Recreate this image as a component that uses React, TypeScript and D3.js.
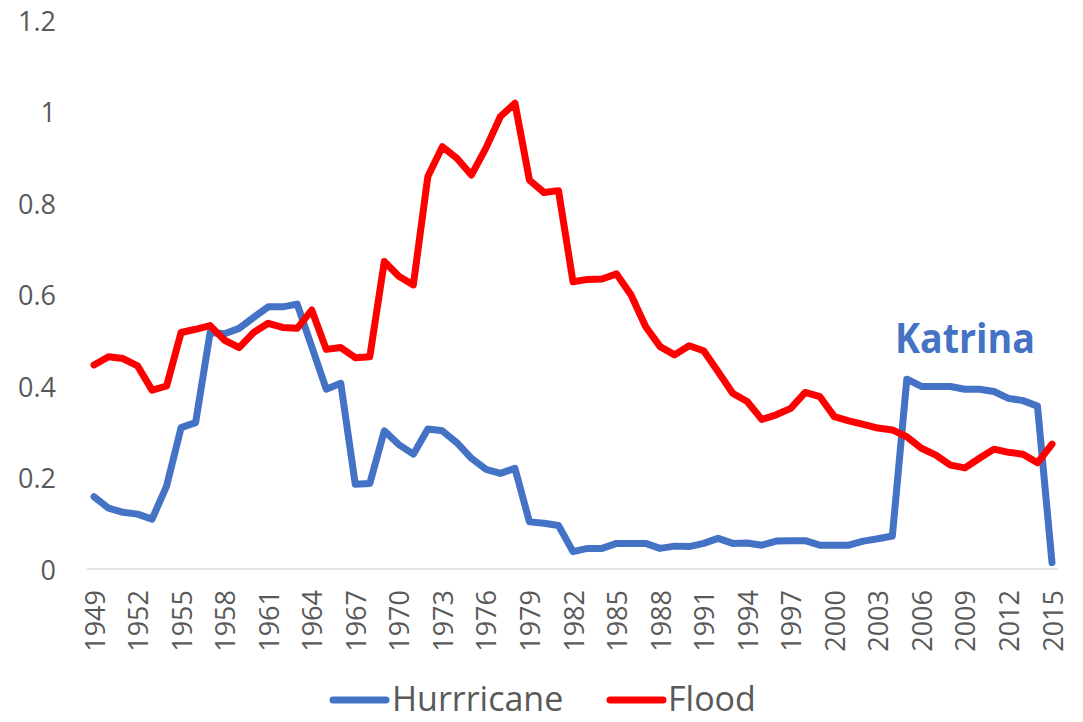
import React from "react";
import * as d3 from "d3";

const years: number[] = d3.range(1949, 2016);

const hurricane: number[] = [
  0.158, 0.133, 0.124, 0.12, 0.109, 0.181, 0.309, 0.32, 0.517, 0.514,
  0.526, 0.55, 0.573, 0.573, 0.579, 0.486, 0.393, 0.406, 0.185, 0.187,
  0.302, 0.272, 0.251, 0.306, 0.302, 0.276, 0.242, 0.218, 0.209, 0.22,
  0.103, 0.1, 0.095, 0.038, 0.045, 0.045, 0.056, 0.056, 0.056, 0.045,
  0.05, 0.049, 0.056, 0.067, 0.056, 0.057, 0.052, 0.061, 0.062, 0.062,
  0.052, 0.052, 0.052, 0.061, 0.066, 0.072, 0.415, 0.399, 0.399, 0.399,
  0.393, 0.393, 0.388, 0.373, 0.368, 0.356, 0.014,
];

const flood: number[] = [
  0.446, 0.464, 0.46, 0.444, 0.391, 0.4, 0.517, 0.524, 0.532, 0.5,
  0.484, 0.517, 0.537, 0.528, 0.526, 0.566, 0.48, 0.484, 0.462, 0.464,
  0.672, 0.64, 0.621, 0.858, 0.923, 0.898, 0.861, 0.92, 0.989, 1.018,
  0.85, 0.823, 0.827, 0.628, 0.633, 0.634, 0.645, 0.599, 0.53, 0.486,
  0.468, 0.488, 0.477, 0.431, 0.384, 0.366, 0.327, 0.337, 0.351, 0.386,
  0.377, 0.333, 0.324, 0.316, 0.308, 0.304, 0.289, 0.264, 0.249, 0.227,
  0.221, 0.242, 0.262, 0.255, 0.251, 0.232, 0.273,
];

const yTicks: number[] = [0, 0.2, 0.4, 0.6, 0.8, 1, 1.2];
const xTickYears: number[] = d3.range(1949, 2016, 3);

const seriesNames: string[] = ["Hurrricane", "Flood"];
const seriesColors: string[] = ["#4472C4", "#FF0000"];
const annotation = "Katrina";

export default function App() {
  const W = 1083;
  const H = 722;
  const x = d3.scaleLinear().domain([1949, 2015]).range([94, 1052]);
  const y = d3.scaleLinear().domain([0, 1.2]).range([569, 20]);
  const line = d3
    .line<number>()
    .x((_, i) => x(years[i]))
    .y((d) => y(d));
  const series = [hurricane, flood];
  const font = "'Open Sans', sans-serif";
  const gray = "#595959";

  return (
    <svg
      width={W}
      height={H}
      style={{ position: "absolute", left: 0, top: 0, background: "#fff" }}
      fontFamily={font}
    >
      <rect width={W} height={H} fill="#fff" />
      {/* baseline */}
      <line x1={87} x2={1058} y1={y(0)} y2={y(0)} stroke="#D9D9D9" strokeWidth={1.5} />
      {/* y tick labels */}
      {yTicks.map((t) => (
        <text
          key={t}
          x={56}
          y={y(t)}
          textAnchor="end"
          dominantBaseline="central"
          fontSize={27}
          fill={gray}
        >
          {d3.format("~g")(t)}
        </text>
      ))}
      {/* x tick labels */}
      {xTickYears.map((yr) => (
        <text
          key={yr}
          transform={`translate(${x(yr)},590) rotate(-90)`}
          textAnchor="end"
          dominantBaseline="central"
          fontSize={27}
          fill={gray}
        >
          {yr}
        </text>
      ))}
      {/* lines */}
      {series.map((s, i) => (
        <path
          key={i}
          d={line(s) || ""}
          fill="none"
          stroke={seriesColors[i]}
          strokeWidth={7}
          strokeLinejoin="round"
          strokeLinecap="round"
        />
      ))}
      {/* annotation */}
      <text
        x={895}
        y={353}
        fontSize={42}
        fontWeight="bold"
        fill={seriesColors[0]}
        textLength={140}
        lengthAdjust="spacingAndGlyphs"
      >
        {annotation}
      </text>
      {/* legend */}
      {[
        { x0: 333, tx: 392 },
        { x0: 610, tx: 668 },
      ].map((p, i) => (
        <g key={i}>
          <line
            x1={p.x0}
            x2={p.x0 + 53}
            y1={700}
            y2={700}
            stroke={seriesColors[i]}
            strokeWidth={7}
            strokeLinecap="round"
          />
          <text x={p.tx} y={711} fontSize={34} fill={gray}>
            {seriesNames[i]}
          </text>
        </g>
      ))}
    </svg>
  );
}
